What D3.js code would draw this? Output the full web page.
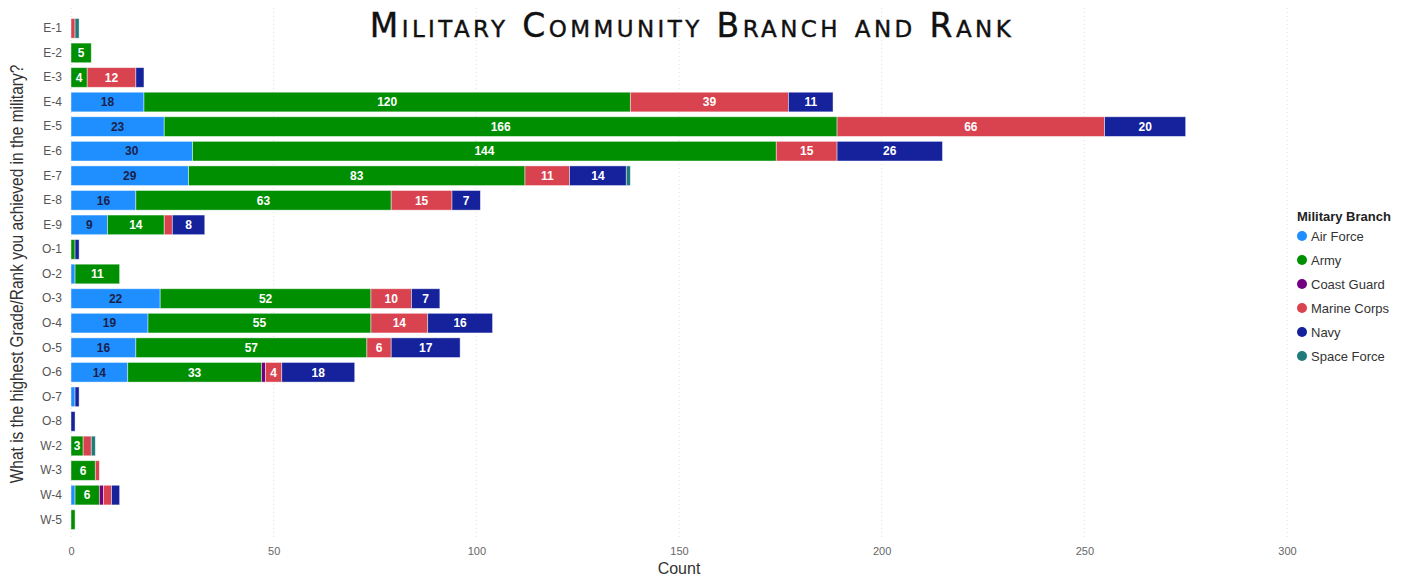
<!DOCTYPE html>
<html>
<head>
<meta charset="utf-8">
<script src="https://cdn.jsdelivr.net/npm/d3@7"></script>
<style>
  body { margin: 0; background: #fff; }
  svg { display: block; font-family: "Liberation Sans", Arial, sans-serif; }
</style>
</head>
<body>
<div id="chart"></div>
<script>
// Data
const ranks = ['E-1', 'E-2', 'E-3', 'E-4', 'E-5', 'E-6', 'E-7', 'E-8', 'E-9',
  'O-1', 'O-2', 'O-3', 'O-4', 'O-5', 'O-6', 'O-7', 'O-8',
  'W-2', 'W-3', 'W-4', 'W-5'];
const branches = ['Air Force', 'Army', 'Coast Guard', 'Marine Corps', 'Navy', 'Space Force'];
const airForce    = [0, 0, 0, 18, 23, 30, 29, 16, 9, 0, 1, 22, 19, 16, 14, 1, 0, 0, 0, 1, 0];
const army        = [0, 5, 4, 120, 166, 144, 83, 63, 14, 1, 11, 52, 55, 57, 33, 0, 0, 3, 6, 6, 1];
const coastGuard  = [0, 0, 0, 0, 0, 0, 0, 0, 0, 0, 0, 0, 0, 0, 1, 0, 0, 0, 0, 1, 0];
const marineCorps = [1, 0, 12, 39, 66, 15, 11, 15, 2, 0, 0, 10, 14, 6, 4, 0, 0, 2, 1, 2, 0];
const navy        = [0, 0, 2, 11, 20, 26, 14, 7, 8, 1, 0, 7, 16, 17, 18, 1, 1, 0, 0, 2, 0];
const spaceForce  = [1, 0, 0, 0, 0, 0, 1, 0, 0, 0, 0, 0, 0, 0, 0, 0, 0, 1, 0, 0, 0];
const xTicks = [0, 50, 100, 150, 200, 250, 300];
const colors = ['#1f8fff', '#008f00', '#730080', '#d9434f', '#15229b', '#1f7a7a'];

const seriesValues = [airForce, army, coastGuard, marineCorps, navy, spaceForce];
const rows = ranks.map((r, i) => {
  const row = { rank: r };
  branches.forEach((b, j) => { row[b] = seriesValues[j][i]; });
  return row;
});

const W = 1406, H = 577;
const svg = d3.select('#chart').append('svg')
  .attr('width', W)
  .attr('height', H);

const x = d3.scaleLinear().domain([0, 300]).range([71, 1287]);
const y = d3.scaleBand().domain(ranks).range([13.6, 534.4]).padding(0.2);
const color = d3.scaleOrdinal().domain(branches).range(colors);

// vertical dotted gridlines
svg.append('g')
  .selectAll('line')
  .data(xTicks)
  .enter()
  .append('line')
  .attr('x1', d => x(d))
  .attr('x2', d => x(d))
  .attr('y1', 8)
  .attr('y2', 540)
  .attr('stroke', '#dcdcdc')
  .attr('stroke-width', 1)
  .attr('stroke-dasharray', '1,3');

// stacked bars
const stacked = d3.stack().keys(branches)(rows);

const layer = svg.append('g')
  .selectAll('g')
  .data(stacked)
  .enter()
  .append('g')
  .attr('fill', d => color(d.key));

layer.selectAll('rect')
  .data(d => d.filter(p => p[1] - p[0] > 0))
  .enter()
  .append('rect')
  .attr('x', d => x(d[0]))
  .attr('y', d => y(d.data.rank))
  .attr('width', d => x(d[1]) - x(d[0]))
  .attr('height', y.bandwidth())
  .attr('stroke', 'rgba(255,255,255,0.55)')
  .attr('stroke-width', 0.8);

// value labels inside segments
layer.selectAll('text')
  .data(d => d.filter(p => p[1] - p[0] >= 3).map(p => ({ p: p, key: d.key })))
  .enter()
  .append('text')
  .attr('x', d => (x(d.p[0]) + x(d.p[1])) / 2)
  .attr('y', d => y(d.p.data.rank) + y.bandwidth() / 2)
  .attr('dy', '0.36em')
  .attr('text-anchor', 'middle')
  .attr('font-size', 12)
  .attr('font-weight', 'bold')
  .attr('fill', d => d.key === 'Air Force' ? '#1b1f4a' : '#fff')
  .text(d => d.p[1] - d.p[0]);

// y axis category labels
const yAxis = svg.append('g')
  .attr('transform', 'translate(64,0)')
  .call(d3.axisLeft(y).tickSize(0).tickPadding(2));
yAxis.select('.domain').remove();
yAxis.selectAll('text')
  .attr('font-size', 12)
  .attr('font-family', '"Liberation Sans", Arial, sans-serif')
  .attr('fill', '#555');

// x axis tick labels
const xAxis = svg.append('g')
  .attr('transform', 'translate(0,543)')
  .call(d3.axisBottom(x).tickValues(xTicks).tickSize(0).tickPadding(4));
xAxis.select('.domain').remove();
xAxis.selectAll('text')
  .attr('font-size', 11)
  .attr('font-family', '"Liberation Sans", Arial, sans-serif')
  .attr('fill', '#666');

// axis titles
svg.append('text')
  .attr('x', 679)
  .attr('y', 574)
  .attr('text-anchor', 'middle')
  .attr('font-size', 16)
  .attr('fill', '#333')
  .text('Count');

svg.append('text')
  .attr('transform', 'translate(23,274) rotate(-90) scale(0.86,1)')
  .attr('text-anchor', 'middle')
  .attr('font-size', 18)
  .attr('fill', '#333')
  .text('What is the highest Grade/Rank you achieved in the military?');

// title
svg.append('text')
  .attr('x', 692)
  .attr('y', 37)
  .attr('text-anchor', 'middle')
  .attr('font-family', '"DejaVu Sans", sans-serif')
  .attr('font-size', 33)
  .attr('font-variant', 'small-caps')
  .attr('letter-spacing', 3.4)
  .attr('fill', '#111')
  .attr('stroke', '#111')
  .attr('stroke-width', 0.4)
  .text('Military Community Branch and Rank');

// legend
const legend = svg.append('g').attr('transform', 'translate(1297,0)');
legend.append('text')
  .attr('x', 0)
  .attr('y', 221)
  .attr('font-size', 13)
  .attr('font-weight', 'bold')
  .attr('fill', '#222')
  .text('Military Branch');

const item = legend.selectAll('.item')
  .data(branches)
  .enter()
  .append('g')
  .attr('class', 'item')
  .attr('transform', (d, i) => `translate(0,${236 + i * 24})`);

item.append('circle')
  .attr('cx', 5)
  .attr('cy', 0)
  .attr('r', 5)
  .attr('fill', d => color(d));

item.append('text')
  .attr('x', 14)
  .attr('y', 0)
  .attr('dy', '0.36em')
  .attr('font-size', 13)
  .attr('fill', '#333')
  .text(d => d);
</script>
</body>
</html>
